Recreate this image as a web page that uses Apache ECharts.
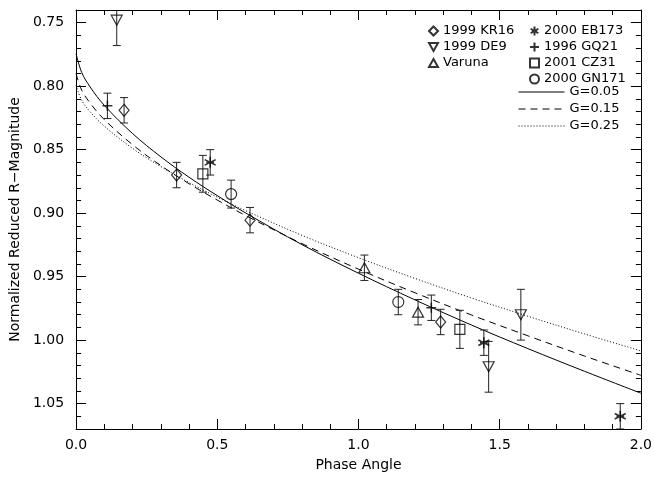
<!DOCTYPE html>
<html>
<head>
<meta charset="utf-8">
<script src="https://cdn.jsdelivr.net/npm/echarts@6/dist/echarts.min.js"></script>
<style>
html,body{margin:0;padding:0;background:#fff;}
#chart{width:655px;height:477px;}
</style>
</head>
<body>
<div id="chart"></div>
<script>
// ---- data ----
const yTicks = [0.75, 0.80, 0.85, 0.90, 0.95, 1.00, 1.05];
const yMinorTicks = [0.74,0.75,0.76,0.77,0.78,0.79,0.80,0.81,0.82,0.83,0.84,0.85,0.86,0.87,0.88,0.89,0.90,0.91,0.92,0.93,0.94,0.95,0.96,0.97,0.98,0.99,1.00,1.01,1.02,1.03,1.04,1.05,1.06,1.07];

// [phase angle, magnitude, error]
const kr16   = [[0.170,0.819,0.010],[0.356,0.870,0.010],[0.616,0.9055,0.010],[1.291,0.9857,0.010]];
const de9    = [[0.144,0.748,0.020],[1.461,1.021,0.020],[1.575,0.980,0.020]];
const varuna = [[1.021,0.943,0.010],[1.211,0.978,0.010]];
const eb173  = [[0.475,0.860,0.010],[1.444,1.002,0.010],[1.927,1.060,0.010]];
const gq21   = [[0.111,0.8155,0.010],[1.258,0.9745,0.010]];
const cz31   = [[0.449,0.869,0.0145],[1.359,0.9915,0.015]];
const gn171  = [[0.549,0.885,0.011],[1.141,0.970,0.010]];

const curvePhase = [0,0.02,0.05,0.1,0.2,0.3,0.4,0.5,0.6,0.8,1.0,1.2,1.4,1.6,1.8,2.0];
const g005 = [0.7745,0.7892,0.8007,0.8151,0.8373,0.8556,0.8717,0.8862,0.8998,0.9248,0.9473,0.9683,0.9881,1.0067,1.0245,1.0418];
const g015 = [0.7900,0.8032,0.8134,0.8263,0.8461,0.8625,0.8768,0.8897,0.9018,0.9240,0.9441,0.9627,0.9802,0.9966,1.0125,1.0277];
const g025 = [0.7995,0.8111,0.8202,0.8315,0.8490,0.8633,0.8759,0.8874,0.8980,0.9175,0.9351,0.9514,0.9668,0.9812,0.9951,1.0085];

// ---- chart ----
const FONT = 'DejaVu Sans';
const chart = echarts.init(document.getElementById('chart'), null, {renderer:'canvas'});

const groups = [
  {name:'1999 KR16',  data:kr16,   symbol:'diamond',  size:[10,12], bw:1.2},
  {name:'1999 DE9',   data:de9,    symbol:'path://M0 0L10 0L5 9Z', size:[11,10], bw:1.2},
  {name:'Varuna',     data:varuna, symbol:'path://M5 0L10 9L0 9Z', size:[11,10], bw:1.2},
  {name:'2000 EB173', data:eb173,  symbol:'path://M5 0L5 10M0.7 2.5L9.3 7.5M0.7 7.5L9.3 2.5M2 5L8 5', size:11, bw:1.6},
  {name:'1996 GQ21',  data:gq21,   symbol:'path://M0 5L10 5M5 0L5 10', size:10, bw:1.5},
  {name:'2001 CZ31',  data:cz31,   symbol:'rect',     size:10, bw:1.2},
  {name:'2000 GN171', data:gn171,  symbol:'circle',   size:11, bw:1.2}
];

const allErr = [];
groups.forEach(g => g.data.forEach(d => allErr.push(d)));

const curves = [
  {name:'G=0.05', ys:g005, type:'solid'},
  {name:'G=0.15', ys:g015, type:[7,5]},
  {name:'G=0.25', ys:g025, type:[1,2]}
];

const series = [];
curves.forEach(c => {
  series.push({
    name:c.name, type:'line', xAxisIndex:0, yAxisIndex:0,
    data: curvePhase.map((x,i)=>[x,c.ys[i]]),
    symbol:'none', showSymbol:false, smooth:0.35,
    lineStyle:{color:'#000', width:1, type:c.type},
    itemStyle:{color:'#000'},
    silent:true, z:2, animation:false
  });
});
series.push({
  name:'err', type:'custom', xAxisIndex:0, yAxisIndex:0, data:allErr, clip:true, z:3,
  renderItem:function(params, api){
    const x = api.value(0), y = api.value(1), e = api.value(2);
    const p1 = api.coord([x, y - e]);
    const p2 = api.coord([x, y + e]);
    const w = 4;
    const st = {stroke:'#222', lineWidth:1, fill:null};
    return {type:'group', children:[
      {type:'line', shape:{x1:p1[0],y1:p1[1],x2:p2[0],y2:p2[1]}, style:st},
      {type:'line', shape:{x1:p1[0]-w,y1:p1[1],x2:p1[0]+w,y2:p1[1]}, style:st},
      {type:'line', shape:{x1:p2[0]-w,y1:p2[1],x2:p2[0]+w,y2:p2[1]}, style:st}
    ]};
  },
  animation:false, silent:true
});
groups.forEach(g => {
  series.push({
    name:g.name, type:'scatter', xAxisIndex:0, yAxisIndex:0,
    data:g.data.map(d=>[d[0],d[1]]),
    symbol:g.symbol, symbolSize:g.size,
    itemStyle:{color:'rgba(0,0,0,0)', borderColor:'#000', borderWidth:g.bw},
    z:4, animation:false, silent:true
  });
});

const legendText = {fontFamily:FONT, fontSize:13, color:'#000', lineHeight:16};
const yBase = {type:'value', inverse:true, min:0.74, max:1.07, splitLine:{show:false}};

const option = {
  backgroundColor:'#fff',
  animation:false,
  grid:{left:75, right:12, top:10, bottom:47, containLabel:false},
  legend:[
    {data:['1999 KR16','1999 DE9','Varuna'], orient:'vertical', left:423, top:18,
     itemWidth:9, itemHeight:9, itemGap:0, textStyle:legendText, selectedMode:false},
    {data:['2000 EB173','1996 GQ21','2001 CZ31','2000 GN171'], orient:'vertical', left:524, top:18,
     itemWidth:9, itemHeight:9, itemGap:0, textStyle:legendText, selectedMode:false},
    {data:['G=0.05','G=0.15','G=0.25'], orient:'vertical', left:513, top:79,
     itemWidth:46, itemHeight:9, itemGap:1, textStyle:legendText, selectedMode:false,
     lineStyle:{width:1},
     itemStyle:{color:'rgba(0,0,0,0)', borderColor:'rgba(0,0,0,0)', borderWidth:0}}
  ],
  xAxis:[
    {type:'value', position:'bottom', min:0, max:2, interval:0.5,
     name:'Phase Angle', nameLocation:'middle', nameGap:29,
     nameTextStyle:{fontFamily:FONT, fontSize:14, color:'#000'},
     axisLine:{show:true, lineStyle:{color:'#000', width:1}},
     axisTick:{show:true, inside:true, length:10, lineStyle:{color:'#000'}},
     minorTick:{show:true, splitNumber:5, length:5, lineStyle:{color:'#000'}},
     axisLabel:{fontFamily:FONT, fontSize:14, color:'#000', margin:9, formatter:v=>v.toFixed(1)},
     splitLine:{show:false}},
    {type:'value', position:'top', min:0, max:2, interval:0.5,
     axisLine:{show:true, lineStyle:{color:'#000', width:1}},
     axisTick:{show:true, inside:true, length:10, lineStyle:{color:'#000'}},
     minorTick:{show:true, splitNumber:5, length:5, lineStyle:{color:'#000'}},
     axisLabel:{show:false}, splitLine:{show:false}}
  ],
  yAxis:[
    Object.assign({}, yBase, {position:'left',
     name:'Normalized Reduced R\u2212Magnitude', nameLocation:'middle', nameGap:52,
     nameTextStyle:{fontFamily:FONT, fontSize:14, color:'#000'},
     axisLine:{show:true, lineStyle:{color:'#000', width:1}},
     axisTick:{show:true, inside:true, length:10, customValues:yTicks, lineStyle:{color:'#000'}},
     axisLabel:{fontFamily:FONT, fontSize:14, color:'#000', margin:12, customValues:yTicks, formatter:v=>v.toFixed(2)}}),
    Object.assign({}, yBase, {position:'left',
     axisLine:{show:false},
     axisTick:{show:true, inside:true, length:5, customValues:yMinorTicks, lineStyle:{color:'#000'}},
     axisLabel:{show:false}}),
    Object.assign({}, yBase, {position:'right',
     axisLine:{show:true, lineStyle:{color:'#000', width:1}},
     axisTick:{show:true, inside:true, length:10, customValues:yTicks, lineStyle:{color:'#000'}},
     axisLabel:{show:false}}),
    Object.assign({}, yBase, {position:'right',
     axisLine:{show:false},
     axisTick:{show:true, inside:true, length:5, customValues:yMinorTicks, lineStyle:{color:'#000'}},
     axisLabel:{show:false}})
  ],
  series:series
};
chart.setOption(option);
</script>
</body>
</html>
